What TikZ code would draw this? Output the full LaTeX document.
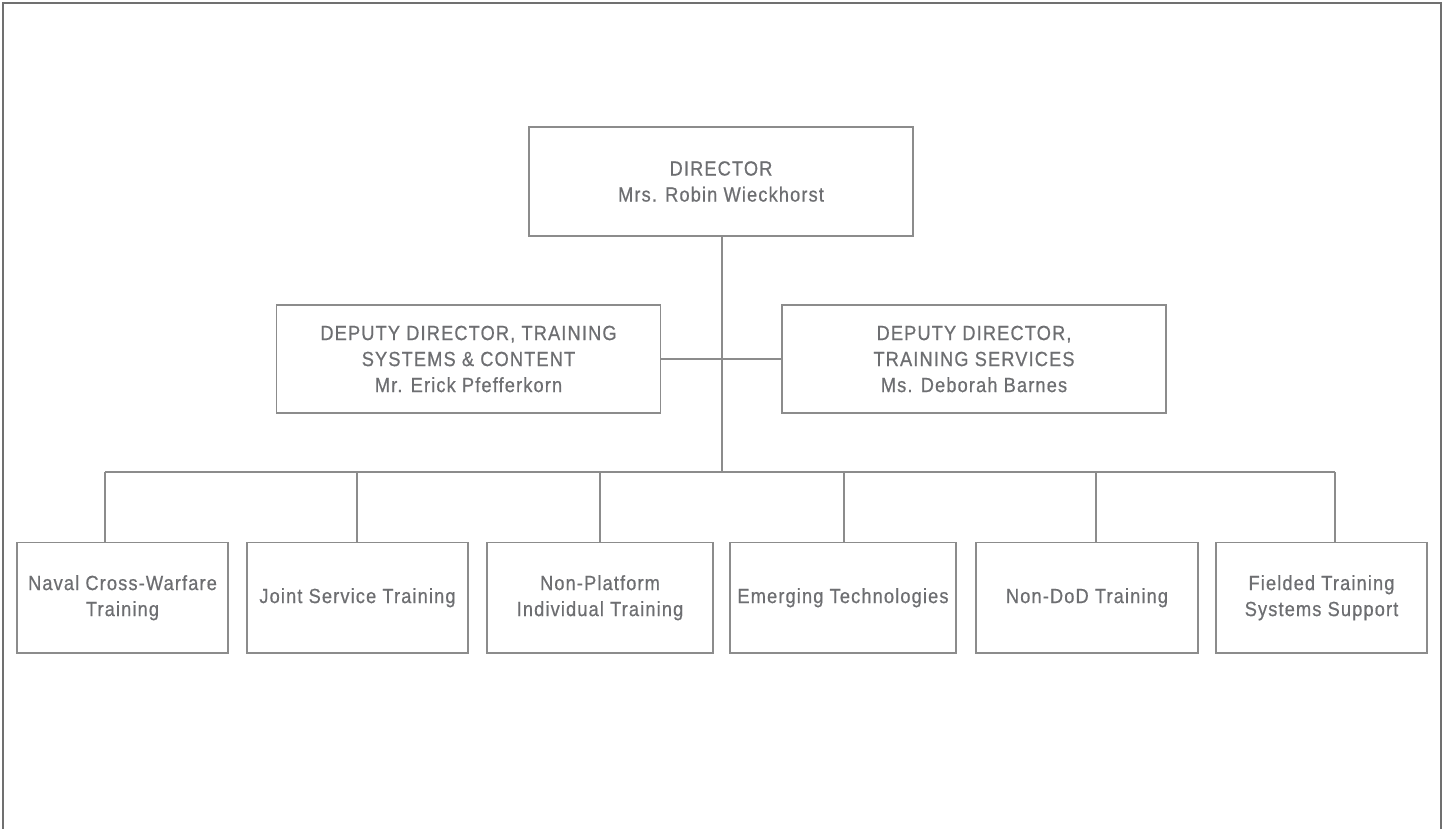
\documentclass[tikz,border=0pt]{standalone}
\usepackage{fontspec}
\setmainfont{Liberation Sans}[FakeStretch=0.89, LetterSpace=5.5, FakeBold=0.6]
\definecolor{txt}{HTML}{6D6E71}
\definecolor{ln}{HTML}{8C8C8C}
\definecolor{frm}{HTML}{707070}
\begin{document}
\begin{tikzpicture}[x=1pt,y=-1pt,
  orgbox/.style={draw=ln, line width=1.4pt, text=txt, align=center, inner sep=0pt,
    font=\fontsize{20.5}{26}\selectfont},
  topbox/.style={orgbox, minimum width=384pt, minimum height=109pt},
  unitbox/.style={orgbox, minimum height=110.5pt},
  conn/.style={draw=ln, line width=1.4pt}]
\useasboundingbox (0,0) rectangle (1442,829);
\draw[frm, line width=2pt] (2.5,829) -- (2.5,3.3) -- (1440.5,3.3) -- (1440.5,829);

\node[topbox] (dir) at (721,181.5) {DIRECTOR\\Mrs. Robin Wieckhorst};
\node[topbox, minimum height=108pt] (dl) at (468.5,359) {DEPUTY DIRECTOR, TRAINING\\SYSTEMS \& CONTENT\\Mr. Erick Pfefferkorn};
\node[topbox, minimum height=108pt] (dr) at (974,359) {DEPUTY DIRECTOR,\\TRAINING SERVICES\\Ms. Deborah Barnes};

\node[unitbox, minimum width=211pt] (u1) at (122.5,597.75) {Naval Cross-Warfare\\Training};
\node[unitbox, minimum width=221pt] (u2) at (357.5,597.75) {Joint Service Training};
\node[unitbox, minimum width=226pt] (u3) at (600,597.75) {Non-Platform\\Individual Training};
\node[unitbox, minimum width=226pt] (u4) at (843,597.75) {Emerging Technologies};
\node[unitbox, minimum width=222pt] (u5) at (1087,597.75) {Non-DoD Training};
\node[unitbox, minimum width=211pt] (u6) at (1321.5,597.75) {Fielded Training\\Systems Support};

\coordinate (bus) at (722,472);
\coordinate (d1) at (105,472);
\coordinate (d2) at (357,472);
\coordinate (d3) at (600,472);
\coordinate (d4) at (844,472);
\coordinate (d5) at (1096,472);
\coordinate (d6) at (1335,472);

\draw[conn] (dir.south -| bus) -- (bus);
\draw[conn] (dl.east) -- (dr.west);
\draw[conn] (d1) -- (d6);
\draw[conn] (d1) -- (d1 |- u1.north);
\draw[conn] (d2) -- (d2 |- u2.north);
\draw[conn] (d3) -- (d3 |- u3.north);
\draw[conn] (d4) -- (d4 |- u4.north);
\draw[conn] (d5) -- (d5 |- u5.north);
\draw[conn] (d6) -- (d6 |- u6.north);
\end{tikzpicture}
\end{document}
